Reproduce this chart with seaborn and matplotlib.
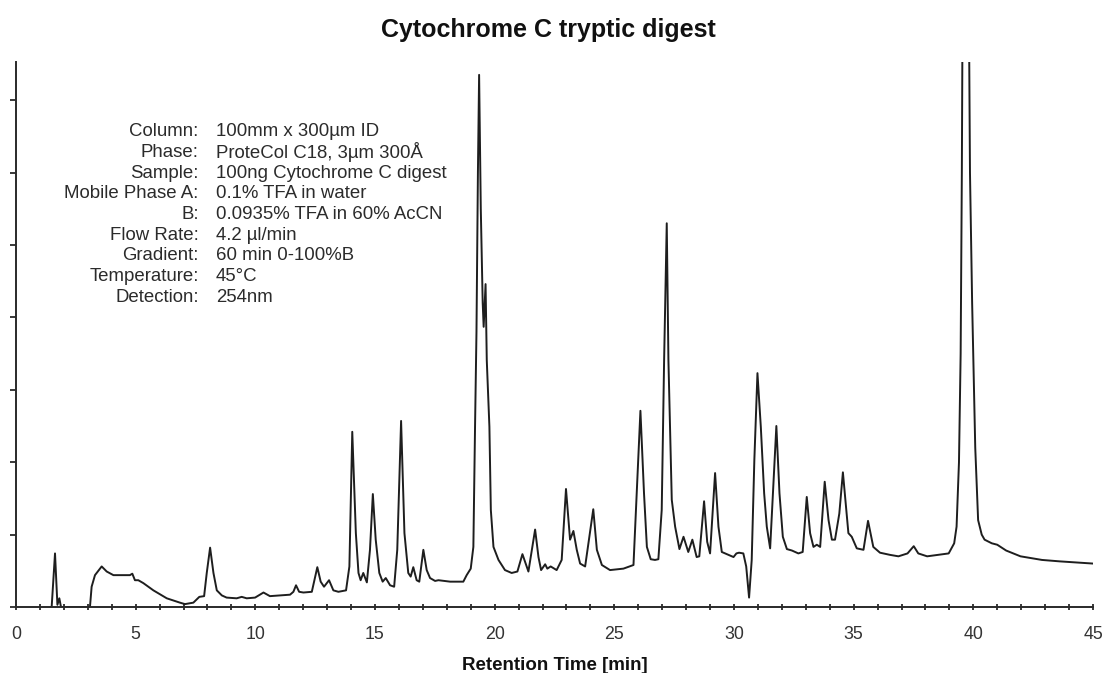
import matplotlib
matplotlib.use("Agg")
import matplotlib.pyplot as plt
import seaborn as sns
import pandas as pd
from matplotlib.ticker import MultipleLocator

# ---- data (retention time [min], signal [tick units]) ----
time_min = [
    1.45, 1.49, 1.63, 1.73, 1.81, 1.88, 3.09, 3.16, 3.30, 3.58, 3.79, 4.07, 4.76, 4.86, 4.97,
    5.11, 5.32, 5.74, 6.30, 6.85, 7.06, 7.41, 7.66, 7.86, 7.97, 8.11, 8.25, 8.39, 8.60, 8.80,
    9.22, 9.43, 9.64, 9.99, 10.34, 10.61, 11.45, 11.59, 11.70, 11.83, 12.01, 12.36, 12.47, 12.59,
    12.73, 12.87, 13.08, 13.26, 13.47, 13.79, 13.93, 14.05, 14.20, 14.31, 14.40, 14.51, 14.66,
    14.79, 14.91, 15.03, 15.18, 15.32, 15.45, 15.63, 15.80, 15.93, 16.09, 16.23, 16.39, 16.49,
    16.60, 16.74, 16.85, 17.02, 17.16, 17.30, 17.51, 17.65, 18.14, 18.69, 18.83, 19.00, 19.11,
    19.18, 19.24, 19.30, 19.35, 19.42, 19.50, 19.54, 19.62, 19.67, 19.78, 19.84, 19.95, 20.16,
    20.43, 20.71, 20.95, 21.16, 21.41, 21.69, 21.83, 21.94, 22.11, 22.20, 22.34, 22.59, 22.80,
    22.98, 23.15, 23.29, 23.43, 23.57, 23.78, 24.12, 24.27, 24.48, 24.82, 25.38, 25.80, 26.09,
    26.24, 26.36, 26.52, 26.70, 26.84, 26.98, 27.08, 27.19, 27.26, 27.40, 27.54, 27.72, 27.89,
    28.09, 28.26, 28.44, 28.55, 28.75, 28.88, 29.00, 29.21, 29.35, 29.49, 29.70, 29.98, 30.10,
    30.21, 30.39, 30.51, 30.63, 30.74, 30.85, 30.98, 31.12, 31.26, 31.37, 31.51, 31.77, 31.90,
    32.04, 32.21, 32.42, 32.69, 32.87, 33.04, 33.18, 33.32, 33.46, 33.60, 33.79, 33.95, 34.09,
    34.22, 34.40, 34.55, 34.69, 34.78, 34.92, 35.13, 35.41, 35.60, 35.82, 36.10, 36.52, 36.87,
    37.25, 37.51, 37.70, 38.07, 38.97, 39.20, 39.30, 39.40, 39.47, 39.52, 39.56, 39.68, 39.80,
    39.86, 39.95, 40.08, 40.20, 40.35, 40.47, 40.77, 41.00, 41.37, 41.97, 42.87, 43.62, 45.00,
]
signal = [
    0.00, 0.00, 0.74, 0.03, 0.12, 0.00, 0.00, 0.28, 0.44, 0.56, 0.49, 0.44, 0.44, 0.46, 0.37,
    0.37, 0.33, 0.23, 0.12, 0.06, 0.04, 0.06, 0.14, 0.15, 0.47, 0.82, 0.47, 0.23, 0.16, 0.13,
    0.12, 0.14, 0.12, 0.13, 0.20, 0.15, 0.17, 0.21, 0.30, 0.21, 0.20, 0.21, 0.37, 0.55,
    0.35, 0.28, 0.37, 0.23, 0.21, 0.23, 0.56, 2.42, 1.02, 0.47, 0.37, 0.47, 0.34,
    0.79, 1.56, 0.93, 0.47, 0.35, 0.40, 0.30, 0.28, 0.79, 2.57, 1.02, 0.47, 0.42,
    0.55, 0.37, 0.35, 0.79, 0.51, 0.40, 0.36, 0.37, 0.35, 0.35, 0.44, 0.53, 0.83,
    2.49, 3.80, 6.00, 7.35, 5.50, 4.20, 3.87, 4.46, 3.41, 2.49, 1.34, 0.83, 0.65,
    0.51, 0.47, 0.49, 0.73, 0.49, 1.07, 0.69, 0.51, 0.59, 0.53, 0.56, 0.51, 0.65,
    1.63, 0.93, 1.05, 0.79, 0.60, 0.56, 1.35, 0.79, 0.58, 0.51, 0.53, 0.58, 2.71,
    1.57, 0.83, 0.66, 0.65, 0.66, 1.34, 3.41, 5.30, 3.41, 1.48, 1.11, 0.80, 0.97,
    0.76, 0.93, 0.69, 0.70, 1.46, 0.90, 0.74, 1.85, 1.11, 0.76, 0.73, 0.69, 0.74,
    0.75, 0.74, 0.56, 0.13, 0.65, 2.03, 3.23, 2.49, 1.57, 1.11, 0.81, 2.50, 1.57,
    0.97, 0.80, 0.78, 0.74, 0.76, 1.52, 1.02, 0.83, 0.86, 0.83, 1.73, 1.20, 0.93,
    0.93, 1.29, 1.86, 1.34, 1.02, 0.97, 0.81, 0.79, 1.19, 0.83, 0.75, 0.72, 0.70,
    0.74, 0.84, 0.74, 0.70, 0.74, 0.88, 1.11, 2.00, 3.50, 6.00, 9.00, 11.00, 9.00,
    6.00, 4.20, 2.20, 1.20, 1.00, 0.93, 0.88, 0.86, 0.78, 0.70, 0.65, 0.63, 0.60,
]

x_major_ticks = [0, 5, 10, 15, 20, 25, 30, 35, 40, 45]
x_tick_labels = ["0", "5", "10", "15", "20", "25", "30", "35", "40", "45"]

title_text = "Cytochrome C tryptic digest"
xlabel_text = "Retention Time [min]"
info_labels = ["Column:", "Phase:", "Sample:", "Mobile Phase A:", "B:", "Flow Rate:",
               "Gradient:", "Temperature:", "Detection:"]
info_values = ["100mm x 300µm ID", "ProteCol C18, 3µm 300Å", "100ng Cytochrome C digest",
               "0.1% TFA in water", "0.0935% TFA in 60% AcCN", "4.2 µl/min",
               "60 min 0-100%B", "45°C", "254nm"]

# ---- style ----
sns.set_style("ticks")
plt.rcParams["font.family"] = ["Liberation Sans", "DejaVu Sans"]

W, H = 1103, 673
fig = plt.figure(figsize=(W / 100, H / 100), dpi=100)
fig.patch.set_facecolor("white")

ax_left, ax_right, ax_bottom_px, ax_top_px = 16, 1093, 607, 62
ax = fig.add_axes([ax_left / W, (H - ax_bottom_px) / H,
                   (ax_right - ax_left) / W, (ax_bottom_px - ax_top_px) / H])
ax.set_facecolor("white")

df = pd.DataFrame({"time": time_min, "signal": signal})
sns.lineplot(data=df, x="time", y="signal", ax=ax, color="#1e1e1e",
             linewidth=1.4, estimator=None, sort=False)

ymax = (ax_bottom_px - ax_top_px) / 72.4
ax.set_xlim(0, 45)
ax.set_ylim(0, ymax)

for s in ["top", "right"]:
    ax.spines[s].set_visible(False)
for s in ["left", "bottom"]:
    ax.spines[s].set_color("#2a2a2a")
    ax.spines[s].set_linewidth(1.4)

ax.set_xticks(x_major_ticks)
ax.set_xticklabels(x_tick_labels)
ax.xaxis.set_minor_locator(MultipleLocator(1))
ax.tick_params(axis="x", which="both", direction="inout", length=5, width=1.3,
               color="#2a2a2a", pad=11, labelsize=12.8, labelcolor="#333333")
ax.set_yticks(list(range(0, 8)))
ax.set_yticklabels([])
ax.tick_params(axis="y", which="major", direction="out", length=4, width=1.3,
               color="#2a2a2a")

ax.set_xlabel(xlabel_text, fontsize=13.5, fontweight="bold", color="#111111")
ax.xaxis.set_label_coords(0.5, -0.091)
ax.set_ylabel("")

fig.text(0.497, 1 - 30 / H, title_text, ha="center", va="center",
         fontsize=18, fontweight="bold", color="#111111")

label_x = (198.7 - ax_left) / (ax_right - ax_left)
value_x = (216 - ax_left) / (ax_right - ax_left)
for i, (lab, val) in enumerate(zip(info_labels, info_values)):
    ypix = 131.5 + 20.75 * i
    yfrac = (ax_bottom_px - ypix) / (ax_bottom_px - ax_top_px)
    ax.text(label_x, yfrac, lab, transform=ax.transAxes, ha="right", va="center",
            fontsize=13.4, color="#2b2b2b")
    ax.text(value_x, yfrac, val, transform=ax.transAxes, ha="left", va="center",
            fontsize=13.4, color="#2b2b2b")

fig.savefig("out.png", dpi=100)
